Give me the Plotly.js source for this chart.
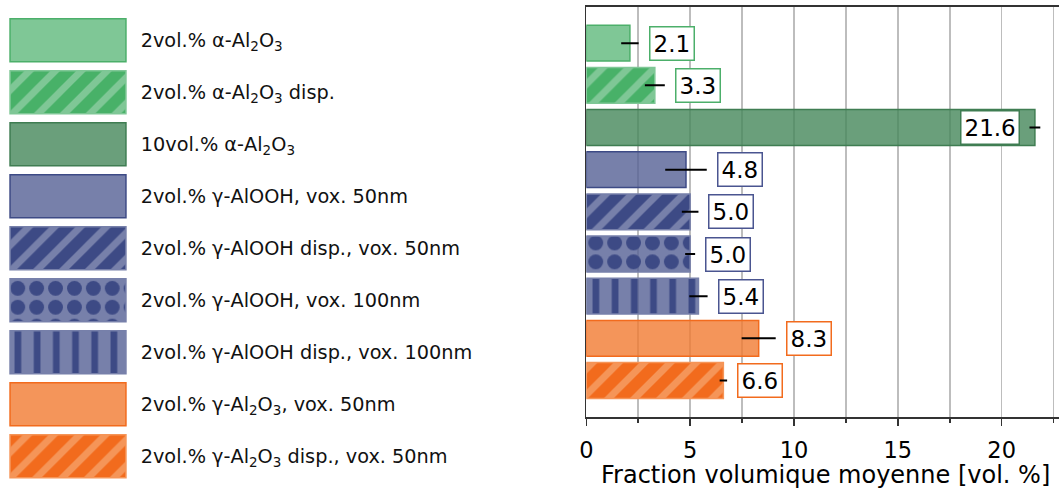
<!DOCTYPE html>
<html><head><meta charset="utf-8">
<script src="https://cdn.plot.ly/plotly-3.0.1.min.js"></script>
<style>html,body{margin:0;padding:0;background:#fff;}#chart{width:1059px;height:488px;}</style>
</head><body><div id="chart"></div>
<script>
const categories = [
  '2vol.% α-Al<sub>2</sub>O<sub>3</sub>',
  '2vol.% α-Al<sub>2</sub>O<sub>3</sub> disp.',
  '10vol.% α-Al<sub>2</sub>O<sub>3</sub>',
  '2vol.% γ-AlOOH, vox. 50nm',
  '2vol.% γ-AlOOH disp., vox. 50nm',
  '2vol.% γ-AlOOH, vox. 100nm',
  '2vol.% γ-AlOOH disp., vox. 100nm',
  '2vol.% γ-Al<sub>2</sub>O<sub>3</sub>, vox. 50nm',
  '2vol.% γ-Al<sub>2</sub>O<sub>3</sub> disp., vox. 50nm'
];
const values = [2.1, 3.3, 21.6, 4.8, 5.0, 5.0, 5.4, 8.3, 6.6];
const errors = [0.42, 0.48, 0.26, 1.0, 0.4, 0.24, 0.44, 0.82, 0.18];
const xAxisTitle = 'Fraction volumique moyenne [vol. %]';

const fillColors = [
  'rgba(95,185,124,0.8)', '#48b168', 'rgba(69,135,90,0.8)',
  'rgba(85,96,149,0.8)', '#3d4a85', 'rgba(85,96,149,0.8)',
  'rgba(85,96,149,0.8)', 'rgba(241,122,49,0.8)', '#f26b1d'
];
const patternShapes = ['', '/', '', '', '/', '.', '|', '', '/'];
const patternColors = ['#7fc796', '#7fc796', '#6a9f7b', '#7780aa', '#7780aa', '#3d4a85', '#3d4a85', '#f59558', '#f59558'];
const patternSizes = [10, 18.3, 10, 10, 18.3, 18.9, 19.2, 10, 18.3];
const patternSolidity = [0.3, 0.38, 0.3, 0.3, 0.38, 0.49, 0.35, 0.3, 0.38];
const edgeColors = ['#4caf6a', '#7fc796', '#3f7d52', '#3d4a85', '#7780aa', '#7780aa', '#7780aa', '#f26b1d', '#f59558'];
const boxColors = ['#4caf6a', '#4caf6a', '#3f7d52', '#4a5590', '#4a5590', '#4a5590', '#4a5590', '#f26b1d', '#f26b1d'];
const labelSide = ['right', 'right', 'left', 'right', 'right', 'right', 'right', 'right', 'right'];

const positions = categories.map((_, i) => i);
const swatchLength = categories.map(() => 1);
const W = 1059, H = 488;
const FONT = 'DejaVu Sans';

function markerFor(i) {
  const m = {color: fillColors[i], line: {color: edgeColors[i], width: 1.5}};
  if (patternShapes[i]) {
    m.pattern = {
      shape: patternShapes[i], fillmode: 'overlay',
      bgcolor: fillColors[i], fgcolor: patternColors[i], fgopacity: 1,
      size: patternSizes[i], solidity: patternSolidity[i]
    };
  }
  return m;
}

const traces = [];
positions.forEach(i => {
  traces.push({
    type: 'bar', orientation: 'h', x: [values[i]], y: [positions[i]], width: 0.85,
    marker: markerFor(i),
    error_x: {type: 'data', array: [errors[i]], color: '#000', thickness: 2, width: 0},
    xaxis: 'x', yaxis: 'y', hoverinfo: 'skip'
  });
});
positions.forEach(i => {
  traces.push({
    type: 'bar', orientation: 'h', x: [swatchLength[i]], y: [positions[i]], width: 0.83,
    marker: markerFor(i), xaxis: 'x2', yaxis: 'y2', hoverinfo: 'skip'
  });
});

const annotations = values.map((v, i) => {
  const left = labelSide[i] === 'left';
  return {
    xref: 'x', yref: 'y', x: left ? v - errors[i] : v + errors[i], y: i,
    text: v.toFixed(1), xanchor: left ? 'right' : 'left', yanchor: 'middle',
    xshift: left ? -10 : 10, showarrow: false,
    bgcolor: '#ffffff', bordercolor: boxColors[i], borderwidth: 1.5, borderpad: 3,
    font: {family: FONT, size: 23, color: '#000'}
  };
});
annotations.push({
  xref: 'x domain', yref: 'y domain', x: 0.5, y: 0, xanchor: 'center', yanchor: 'top',
  xshift: 3, yshift: -43, showarrow: false, borderpad: 0,
  text: xAxisTitle, font: {family: FONT, size: 24, color: '#000'}
});

const layout = {
  width: W, height: H,
  margin: {l: 0, r: 0, t: 0, b: 0},
  paper_bgcolor: '#fff', plot_bgcolor: 'rgba(0,0,0,0)',
  font: {family: FONT, color: '#000'},
  showlegend: false, barmode: 'overlay',
  xaxis: {
    domain: [586.3 / W, 1], range: [0, 22.76], anchor: 'y',
    tick0: 0, dtick: 5, ticks: 'outside', ticklen: 7, tickwidth: 1.5, tickcolor: '#333',
    showline: true, linecolor: '#333', linewidth: 1.5, mirror: true,
    showgrid: true, gridcolor: '#bdbdbd', gridwidth: 1.5, zeroline: false,
    minor: {dtick: 2.5, showgrid: true, gridcolor: '#bdbdbd', gridwidth: 1.5, ticks: 'outside', ticklen: 4, tickwidth: 1.5, tickcolor: '#333'},
    tickfont: {family: FONT, size: 22.5, color: '#000'}, ticklabelstandoff: 5
  },
  yaxis: {
    domain: [1 - 417 / H, 1 - 6.7 / H], range: [8.865, -0.865], anchor: 'x',
    showline: true, linecolor: '#333', linewidth: 1.5,
    showticklabels: false, ticks: '', showgrid: false, zeroline: false
  },
  xaxis2: {
    domain: [8.3 / W, 127.7 / W], range: [-0.015, 1.015], anchor: 'y2', visible: false
  },
  yaxis2: {
    domain: [1 - 482.2 / H, 1 - 14.3 / H], range: [8.5, -0.5], anchor: 'x2', side: 'right',
    tickvals: positions, ticktext: categories, ticks: '', showgrid: false, showline: false, zeroline: false,
    tickfont: {family: FONT, size: 19.3, color: '#111'}, ticklabelstandoff: 12
  },
  annotations: annotations
};

Plotly.newPlot('chart', traces, layout, {staticPlot: true, displayModeBar: false});
</script>
</body></html>
